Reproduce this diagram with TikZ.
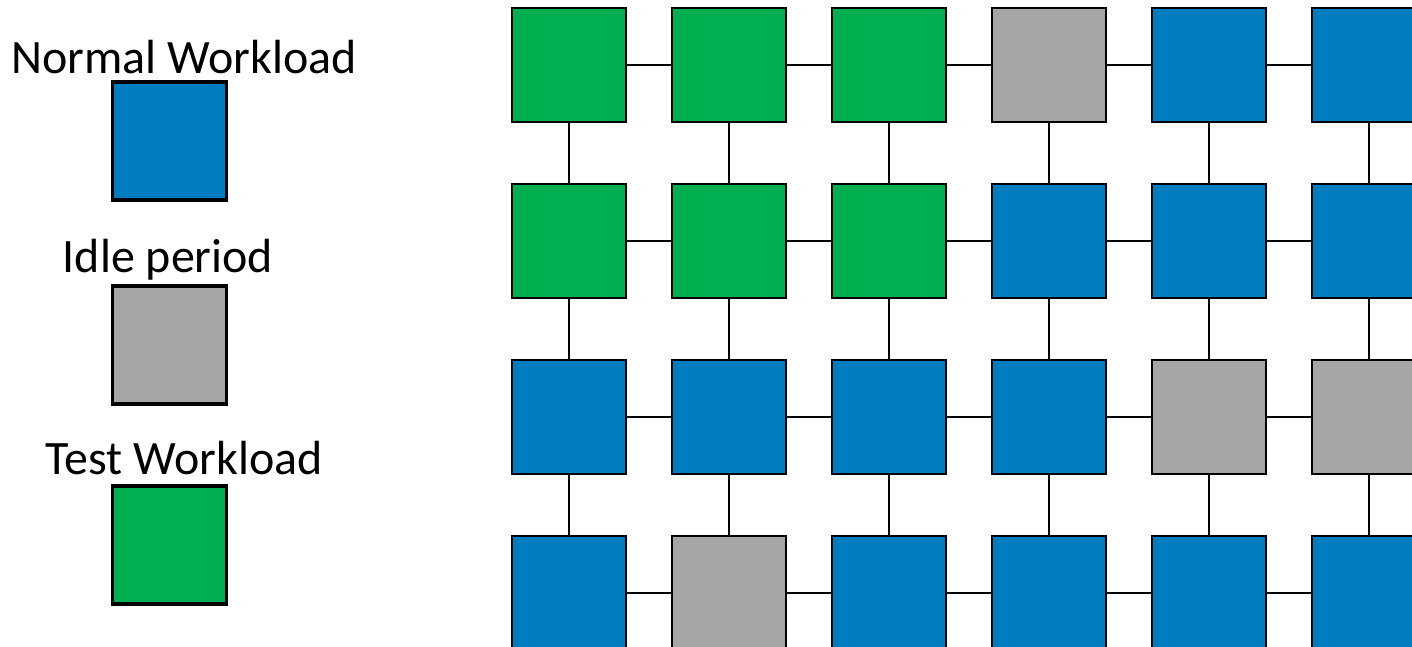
\documentclass[tikz,border=0pt]{standalone}
\usepackage{fontspec}
\setmainfont{Carlito}
\usetikzlibrary{positioning}

\definecolor{busyblue}{HTML}{007CC0}
\definecolor{idlegrey}{HTML}{A6A6A6}
\definecolor{testgreen}{HTML}{00AF50}

\begin{document}
\begin{tikzpicture}[
    x=0.02cm, y=-0.02cm,
    node distance=1.24cm and 0.92cm,
    core/.style={
        rectangle,
        draw=black,
        line width=1.3pt,
        minimum size=2.28cm,
        inner sep=0pt,
        outer sep=0pt
    },
    busycore/.style={core, fill=busyblue},
    idlecore/.style={core, fill=idlegrey},
    testcore/.style={core, fill=testgreen},
    keybox/.style={line width=1.9pt, minimum width=2.28cm, minimum height=2.36cm},
    keytext/.style={anchor=base, inner sep=0pt, font=\fontsize{27.3}{32}\selectfont},
    link/.style={draw=black, line width=1pt}
]

\useasboundingbox (0,0) rectangle (1412,646);

% Legend
\node[keytext] (busytext) at (184,73) {Normal Workload};
\node[busycore, keybox] (busykey) at (169.5,141) {};
\node[keytext] (idletext) at (168,272) {Idle period};
\node[idlecore, keybox] (idlekey) at (169.5,345) {};
\node[keytext] (testtext) at (184,474) {Test Workload};
\node[testcore, keybox] (testkey) at (169.5,545) {};

% Row 1
\node[testcore] (r1-1) at (569,65) {};
\node[testcore, right=of r1-1] (r1-2) {};
\node[testcore, right=of r1-2] (r1-3) {};
\node[idlecore, right=of r1-3] (r1-4) {};
\node[busycore, right=of r1-4] (r1-5) {};
\node[busycore, right=of r1-5] (r1-6) {};

% Row 2
\node[testcore, below=of r1-1] (r2-1) {};
\node[testcore, right=of r2-1] (r2-2) {};
\node[testcore, right=of r2-2] (r2-3) {};
\node[busycore, right=of r2-3] (r2-4) {};
\node[busycore, right=of r2-4] (r2-5) {};
\node[busycore, right=of r2-5] (r2-6) {};

% Row 3
\node[busycore, below=of r2-1] (r3-1) {};
\node[busycore, right=of r3-1] (r3-2) {};
\node[busycore, right=of r3-2] (r3-3) {};
\node[busycore, right=of r3-3] (r3-4) {};
\node[idlecore, right=of r3-4] (r3-5) {};
\node[idlecore, right=of r3-5] (r3-6) {};

% Row 4
\node[busycore, below=of r3-1] (r4-1) {};
\node[idlecore, right=of r4-1] (r4-2) {};
\node[busycore, right=of r4-2] (r4-3) {};
\node[busycore, right=of r4-3] (r4-4) {};
\node[busycore, right=of r4-4] (r4-5) {};
\node[busycore, right=of r4-5] (r4-6) {};

% Mesh links
\foreach \r in {1,2,3,4}
    \foreach \a/\b in {1/2,2/3,3/4,4/5,5/6}
        \path[link] (r\r-\a) -- (r\r-\b);
\foreach \a/\b in {1/2,2/3,3/4}
    \foreach \c in {1,...,6}
        \path[link] (r\a-\c) -- (r\b-\c);

\end{tikzpicture}
\end{document}
